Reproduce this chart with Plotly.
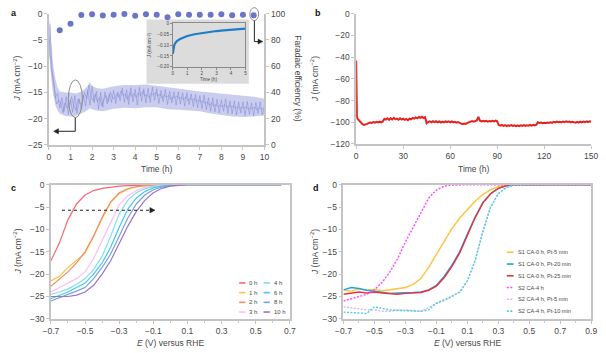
import plotly.graph_objects as go

# ---------------- data ----------------
# Panel a: chronoamperometry (J) and Faradaic efficiency
t_a = [round(0.1 * i, 1) for i in range(101)]
J_a = [-4.0, -10.5, -12.0, -16.0, -15.2, -18.0, -16.0, -18.6, -15.8, -19.2,
       -16.4, -18.8, -15.6, -19.0, -16.2, -18.2, -15.5, -17.6, -14.6, -17.4,
       -13.8, -17.0, -14.8, -18.2, -15.0, -17.8, -14.9, -17.2, -15.3, -16.9,
       -14.6, -17.1, -14.9, -16.6, -14.2, -16.9, -14.5, -17.3, -14.1, -16.8,
       -14.4, -17.4, -14.0, -16.7, -14.3, -17.0, -14.2, -16.9, -14.0, -16.5,
       -14.3, -17.1, -14.6, -16.8, -14.4, -17.3, -14.8, -17.0, -14.9, -17.4,
       -14.9, -17.2, -15.1, -17.6, -15.0, -17.3, -15.3, -17.7, -15.4, -17.9,
       -15.6, -18.1, -15.5, -18.3, -16.0, -18.6, -16.0, -18.7, -16.3, -18.9,
       -16.4, -18.6, -16.2, -19.0, -16.6, -19.1, -16.6, -19.3, -16.8, -18.9,
       -16.8, -19.4, -16.7, -19.2, -17.0, -19.5, -16.9, -19.0, -16.8, -19.3,
       -17.6]
t_a_mid = [round(0.05 + 0.1 * i, 2) for i in range(100)]
J_a_mid = [-2.0, -11.5, -14.5, -17.2, -16.5, -17.0, -18.9, -17.0, -18.0, -17.5,
           -15.8, -17.6, -18.4, -16.3, -17.2, -16.9, -15.0, -16.2, -13.6, -15.8,
           -16.6, -15.3, -16.8, -15.9, -17.5, -16.2, -15.6, -16.8, -14.9, -16.1,
           -16.2, -15.2, -15.9, -14.7, -15.6, -15.3, -16.4, -15.0, -15.8, -15.2,
           -15.9, -15.1, -15.6, -14.8, -15.7, -15.4, -16.0, -15.2, -15.5, -15.0,
           -15.7, -15.3, -16.1, -15.5, -15.9, -15.6, -16.3, -15.8, -16.0, -15.7,
           -16.2, -15.9, -16.4, -15.8, -16.6, -16.1, -16.5, -16.2, -16.8, -16.4,
           -16.9, -16.6, -17.1, -16.8, -17.5, -17.0, -17.6, -17.3, -17.7, -17.4,
           -17.8, -17.3, -17.9, -17.5, -17.8, -17.6, -18.0, -17.7, -18.1, -17.8,
           -18.0, -17.7, -18.2, -17.9, -18.1, -17.8, -18.3, -17.9, -18.2, -18.0]
t_band = [0, 0.05, 0.1, 0.2, 0.3, 0.4, 0.5, 0.75, 1, 1.25, 1.5, 1.75, 1.9, 2, 2.25, 2.5,
          3, 3.5, 4, 4.5, 5, 5.5, 6, 6.5, 7, 7.5, 8, 8.5, 9, 9.5, 10]
J_a_upper = [-3.0, -1.0, -5.5, -10.0, -12.5, -14.0, -14.8, -15.0, -15.0, -15.2, -14.8,
             -14.0, -13.0, -13.8, -14.2, -14.3, -13.8, -13.6, -13.6, -13.5, -13.7,
             -14.0, -14.3, -14.6, -14.8, -15.0, -15.2, -15.4, -15.6, -15.8, -16.2]
J_a_lower = [-8.0, -9.0, -12.0, -15.5, -17.5, -18.5, -19.0, -19.5, -19.6, -19.5, -19.0,
             -18.5, -18.0, -18.2, -18.5, -18.6, -18.1, -17.9, -18.0, -17.8, -17.8,
             -18.2, -18.3, -18.4, -18.6, -19.0, -19.3, -19.6, -19.7, -19.6, -19.4]
t_fe = [0.5, 1, 1.5, 2, 2.5, 3, 3.5, 4, 4.5, 5, 5.5, 6, 6.5, 7, 7.5, 8, 8.5, 9, 9.5]
fe = [87.4, 92.4, 99.0, 99.6, 98.6, 99.3, 99.8, 98.4, 99.6, 99.2, 97.4, 99.6,
      99.2, 99.3, 99.3, 99.6, 98.8, 99.2, 98.8]

# inset of panel a
t_in = [0, 0.05, 0.1, 0.2, 0.3, 0.5, 0.75, 1, 1.5, 2, 2.5, 3, 3.5, 4, 4.5, 5]
J_in = [-0.14, -0.115, -0.1, -0.088, -0.08, -0.072, -0.064, -0.058, -0.05,
        -0.044, -0.039, -0.035, -0.032, -0.029, -0.026, -0.024]

# Panel b: long-term stability
t_b = [0, 0.2, 0.5] + list(range(1, 151))
J_b = [-43.0, -88.0, -95.0,
       -97.0, -98.5, -100.5, -101.8, -102.4, -102.2, -101.5, -100.8, -100.3, -100.6,
       -99.8, -100.4, -99.6, -100.2, -99.5, -100.1, -99.3, -96.8, -97.6, -96.4,
       -97.8, -96.2, -97.4, -96.0, -97.2, -96.6, -97.7, -96.3, -97.5, -96.7,
       -97.8, -97.0, -98.1, -96.8, -97.4, -96.1, -96.7, -95.6, -96.4, -95.2,
       -96.0, -95.0, -96.1, -95.4, -101.0, -99.8, -99.2, -100.1, -99.0, -99.9,
       -99.1, -100.0, -99.3, -100.2, -99.4, -100.1, -99.2, -99.8, -99.1, -100.0,
       -99.3, -100.2, -99.6, -100.4, -99.8, -100.6, -101.1, -101.8, -101.2, -101.5,
       -100.6, -100.0, -99.6, -99.0, -99.5, -98.9, -98.4, -95.0, -98.6, -99.2,
       -98.6, -99.3, -98.7, -99.4, -98.8, -99.3, -98.6, -99.2, -98.5, -99.1,
       -102.6, -103.2, -102.4, -103.4, -102.7, -103.5, -102.8, -103.3, -102.6, -103.4,
       -102.9, -103.6, -103.0, -103.5, -102.8, -103.3, -102.6, -103.4, -102.9, -103.2,
       -102.5, -103.1, -102.4, -102.9, -102.2, -100.0, -100.6, -100.2, -100.8, -100.4,
       -100.9, -100.3, -100.7, -100.1, -100.5, -99.6, -100.2, -99.4, -100.0, -99.5,
       -100.1, -99.3, -99.9, -99.2, -99.8, -99.4, -100.2, -99.5, -100.0, -100.4,
       -99.7, -100.3, -99.5, -100.1, -99.4, -99.9, -99.2, -99.8, -99.1, -99.6]

# Panel c: LSV after different CA times
E_c = [-0.70, -0.65, -0.60, -0.55, -0.50, -0.45, -0.40, -0.35, -0.30, -0.25,
       -0.20, -0.15, -0.10, -0.05, 0.00, 0.05, 0.10, 0.15, 0.20, 0.25,
       0.30, 0.35, 0.40, 0.45, 0.50, 0.55, 0.60, 0.65]
names_c = ["0 h", "1 h", "2 h", "3 h", "4 h", "6 h", "8 h", "10 h"]
J_c = [
    [-17.0, -13.0, -7.8, -4.3, -2.3, -1.3, -0.8, -0.5, -0.3, -0.2, -0.15, -0.1, -0.05, -0.03] + [0.0] * 14,
    [-21.5, -20.5, -18.5, -17.0, -15.3, -11.5, -7.5, -4.0, -2.0, -1.0, -0.5, -0.25, -0.1, -0.05] + [0.0] * 14,
    [-22.7, -21.0, -19.5, -17.5, -15.0, -11.5, -7.3, -3.8, -1.8, -0.9, -0.45, -0.2, -0.1, -0.03] + [0.0] * 14,
    [-24.0, -23.0, -22.0, -21.0, -19.5, -16.5, -12.5, -8.5, -4.5, -2.5, -1.3, -0.6, -0.3, -0.1] + [0.0] * 14,
    [-24.5, -24.0, -23.3, -22.3, -21.0, -19.0, -16.0, -11.5, -6.5, -3.5, -1.8, -0.9, -0.4, -0.15, -0.05] + [0.0] * 13,
    [-25.5, -24.8, -24.0, -23.0, -22.0, -20.0, -17.5, -14.0, -9.5, -5.5, -3.0, -1.5, -0.7, -0.3, -0.1] + [0.0] * 13,
    [-26.0, -25.3, -24.5, -23.8, -23.0, -21.0, -18.5, -15.5, -11.5, -7.5, -4.3, -2.3, -1.1, -0.5, -0.2, -0.05] + [0.0] * 12,
    [-25.0, -25.0, -25.0, -24.7, -24.0, -22.5, -20.0, -17.0, -13.2, -9.3, -6.0, -3.5, -1.8, -0.8, -0.3, -0.1] + [0.0] * 12,
]
colors_c = ["#f26a74", "#ffc440", "#f88c66", "#fbbff5", "#84e0e6", "#45c6f4", "#76a3dc", "#a070cc"]

# Panel d: LSV with Pt deposition
E_d = [round(-0.70 + 0.05 * i, 2) for i in range(33)]
names_d = ["S1 CA-0 h, Pt-5 min", "S1 CA-0 h, Pt-20 min", "S1 CA-0 h, Pt-25 min",
           "S2 CA-4 h", "S2 CA-4 h, Pt-5 min", "S2 CA-4 h, Pt-10 min"]
J_d = [
    [-23.5, -23.8, -23.3, -23.6, -23.4, -23.7, -23.5, -23.3, -23.0, -22.3, -21.0, -18.5,
     -15.5, -12.5, -9.8, -7.5, -5.5, -3.7, -2.2, -1.1, -0.4, -0.1] + [0.0] * 11,
    [-23.5, -23.0, -23.2, -23.6, -23.8, -24.0, -24.3, -24.2, -24.2, -24.1, -24.0, -23.5,
     -22.5, -20.5, -18.0, -15.0, -11.0, -7.2, -4.0, -2.0, -0.8, -0.25, -0.05] + [0.0] * 10,
    [-24.5, -24.3, -24.0, -24.2, -24.0, -24.2, -24.4, -24.5, -24.3, -24.2, -24.1, -23.6,
     -22.7, -20.8, -18.3, -15.3, -11.3, -7.4, -4.1, -2.0, -0.8, -0.25, -0.05] + [0.0] * 10,
    [-26.0, -25.5, -25.0, -24.5, -23.5, -21.8, -19.5, -16.5, -12.8, -9.5, -6.0, -3.0,
     -1.2, -0.3, -0.05] + [0.0] * 18,
    [-27.3, -27.5, -27.8, -28.0, -28.0, -28.3, -28.3, -28.0, -28.0, -28.2, -28.3, -27.5,
     -26.5, -26.0, -25.0, -24.0, -21.5, -17.0, -10.5, -5.0, -2.0, -0.6, -0.1] + [0.0] * 10,
    [-28.5, -28.6, -28.7, -28.8, -27.3, -27.6, -28.0, -28.1, -28.2, -28.3, -28.3, -28.0,
     -26.5, -25.7, -25.0, -24.0, -21.5, -17.0, -10.5, -5.0, -2.0, -0.6, -0.1] + [0.0] * 10,
]
colors_d = ["#ffc23a", "#1ea4e6", "#e8333a", "#ff44ff", "#d8b2e8", "#42d2e2"]
dash_d = ["solid", "solid", "solid", "2px,1.5px", "2px,1.5px", "2px,1.5px"]

# ---------------- figure ----------------
W, H = 606, 353
FONT = "Liberation Sans, Arial, sans-serif"
TXT = "#474747"


def X(p):
    return p / W


def Y(p):
    return 1 - p / H


fig = go.Figure()

# panel a
fig.add_trace(go.Scatter(x=t_band, y=J_a_upper, mode="lines", line=dict(width=0, color="rgba(0,0,0,0)"),
                         xaxis="x", yaxis="y", showlegend=False, hoverinfo="skip"))
fig.add_trace(go.Scatter(x=t_band, y=J_a_lower, mode="lines", line=dict(width=0, color="rgba(0,0,0,0)"),
                         fill="tonexty", fillcolor="rgba(150,156,222,0.5)",
                         xaxis="x", yaxis="y", showlegend=False, hoverinfo="skip"))
fig.add_trace(go.Scatter(x=t_a, y=J_a, mode="lines", line=dict(color="rgba(118,126,208,0.55)", width=0.8),
                         xaxis="x", yaxis="y", showlegend=False))
fig.add_trace(go.Scatter(x=t_a_mid, y=J_a_mid, mode="lines", line=dict(color="rgba(118,126,208,0.55)", width=0.8),
                         xaxis="x", yaxis="y", showlegend=False))
fig.add_trace(go.Scatter(x=t_fe, y=fe, mode="markers", marker=dict(color="#6a74c9", size=6),
                         xaxis="x", yaxis="y2", showlegend=False, cliponaxis=False))
# inset
fig.add_trace(go.Scatter(x=t_in, y=J_in, mode="lines", line=dict(color="#1f7cc6", width=2.2),
                         xaxis="x5", yaxis="y6", showlegend=False))
# panel b
fig.add_trace(go.Scatter(x=t_b, y=J_b, mode="lines", line=dict(color="#e2231f", width=2),
                         xaxis="x2", yaxis="y3", showlegend=False))
# panel c
for name, ys, col in zip(names_c, J_c, colors_c):
    fig.add_trace(go.Scatter(x=E_c, y=ys, mode="lines", name=name, line=dict(color=col, width=1.2),
                             xaxis="x3", yaxis="y4", showlegend=False))
# panel d
for name, ys, col, dsh in zip(names_d, J_d, colors_d, dash_d):
    fig.add_trace(go.Scatter(x=E_d, y=ys, mode="lines", name=name,
                             line=dict(color=col, width=1.4, dash=dsh),
                             xaxis="x4", yaxis="y5", showlegend=False))

axis_common = dict(showline=True, linecolor="#c4c4c4", linewidth=1.5, ticks="outside",
                   tickcolor="#c4c4c4", ticklen=3, tickwidth=1.2, showgrid=False, zeroline=False,
                   tickfont=dict(size=8.5, color=TXT, family=FONT))
inset_common = dict(showline=True, linecolor="#8a8a8a", linewidth=0.8, ticks="outside",
                    tickcolor="#8a8a8a", ticklen=2, tickwidth=0.8, showgrid=False, zeroline=False,
                    mirror=True, tickfont=dict(size=4.6, color=TXT, family=FONT))

fig.update_layout(
    width=W, height=H, autosize=False,
    margin=dict(l=0, r=0, t=0, b=0),
    paper_bgcolor="white", plot_bgcolor="rgba(0,0,0,0)",
    font=dict(family=FONT, color=TXT),
    showlegend=False,
    xaxis=dict(domain=[X(42), X(263)], anchor="y", range=[0, 10], dtick=1, **axis_common),
    yaxis=dict(domain=[Y(144), Y(9)], anchor="x", range=[-25, 0], dtick=5, **axis_common),
    yaxis2=dict(overlaying="y", side="right", anchor="x", range=[0, 100], dtick=20, **axis_common),
    xaxis2=dict(domain=[X(357), X(598)], anchor="y3", range=[0, 150], dtick=30, **axis_common),
    yaxis3=dict(domain=[Y(143), Y(9)], anchor="x2", range=[-120, 0], dtick=20, **axis_common),
    xaxis3=dict(domain=[X(44), X(289)], anchor="y4", range=[-0.7, 0.7], tick0=-0.7, dtick=0.2,
                tickformat=".1f", mirror=True,
                minor=dict(tick0=-0.7, dtick=0.1, ticks="outside", ticklen=2, tickcolor="#c4c4c4"),
                **axis_common),
    yaxis4=dict(domain=[Y(323), Y(185)], anchor="x3", range=[-30, 0], dtick=5, mirror=True, **axis_common),
    xaxis4=dict(domain=[X(344), X(598)], anchor="y5", range=[-0.7, 0.9], tick0=-0.7, dtick=0.2,
                tickformat=".1f", mirror=True,
                minor=dict(tick0=-0.7, dtick=0.1, ticks="outside", ticklen=2, tickcolor="#c4c4c4"),
                **axis_common),
    yaxis5=dict(domain=[Y(323), Y(185)], anchor="x4", range=[-30, 0], dtick=5, mirror=True, **axis_common),
    xaxis5=dict(domain=[X(169), X(243.5)], anchor="y6", range=[0, 5], dtick=1, **inset_common),
    yaxis6=dict(domain=[Y(63.5), Y(19)], anchor="x5", range=[-0.2, 0],
                tickvals=[-0.2, -0.15, -0.1, -0.05, 0],
                ticktext=["\u22120.20", "\u22120.15", "\u22120.10", "\u22120.05", "0"], **inset_common),
)

shapes = []
annotations = []
ARROW = "#222222"

# inset background
shapes.append(dict(type="rect", xref="paper", yref="paper", x0=X(142), x1=X(247), y0=Y(81), y1=Y(15),
                   fillcolor="#dcdcdc", line=dict(width=0), layer="below"))

# panel a: ellipse + arrow to the left axis
shapes.append(dict(type="circle", xref="x", yref="y", x0=0.9, x1=1.55, y0=-19.8, y1=-12.6,
                   line=dict(color="#8c8c8c", width=1)))
shapes.append(dict(type="path", xref="x", yref="y",
                   path="M 1.22,-19.8 L 1.22,-22.4 L 0.42,-22.4",
                   line=dict(color=ARROW, width=1)))
shapes.append(dict(type="path", xref="x", yref="y",
                   path="M 0.22,-22.4 L 0.44,-21.9 L 0.44,-22.9 Z",
                   fillcolor=ARROW, line=dict(color=ARROW, width=0.5)))
# panel a: ellipse + arrow to the right axis
shapes.append(dict(type="circle", xref="paper", yref="paper", x0=X(248), x1=X(257), y0=Y(16), y1=Y(2.7),
                   line=dict(color="#8c8c8c", width=1)))
shapes.append(dict(type="path", xref="x", yref="y2",
                   path="M 9.53,94.8 L 9.53,78.8 L 9.7,78.8",
                   line=dict(color=ARROW, width=1)))
shapes.append(dict(type="path", xref="x", yref="y2",
                   path="M 9.92,78.8 L 9.7,80.7 L 9.7,76.9 Z",
                   fillcolor=ARROW, line=dict(color=ARROW, width=0.5)))

# panel c dotted arrow
shapes.append(dict(type="line", xref="x3", yref="y4", x0=-0.635, x1=-0.12, y0=-5.7, y1=-5.7,
                   line=dict(color=ARROW, width=1.2, dash="dot")))
shapes.append(dict(type="path", xref="x3", yref="y4",
                   path="M -0.09,-5.7 L -0.12,-5.1 L -0.12,-6.3 Z",
                   fillcolor=ARROW, line=dict(color=ARROW, width=0.5)))

# legend panel c (two columns)
for i, (name, col) in enumerate(zip(names_c, colors_c)):
    cx = 237 if i < 4 else 262
    ry = 286 + 10 * (i % 4)
    shapes.append(dict(type="line", xref="paper", yref="paper", x0=X(cx), x1=X(cx + 6.5), y0=Y(ry), y1=Y(ry),
                       line=dict(color=col, width=1.6)))
    annotations.append(dict(xref="paper", yref="paper", x=X(cx + 8.5), y=Y(ry), text=name, showarrow=False,
                            xanchor="left", yanchor="middle", font=dict(size=6, color=TXT, family=FONT)))

# legend panel d
for i, (name, col, dsh) in enumerate(zip(names_d, colors_d, dash_d)):
    ry = 254.5 + 12.1 * i
    shapes.append(dict(type="line", xref="paper", yref="paper", x0=X(511.5), x1=X(518.5), y0=Y(ry), y1=Y(ry),
                       line=dict(color=col, width=1.6, dash=dsh)))
    annotations.append(dict(xref="paper", yref="paper", x=X(521), y=Y(ry), text=name, showarrow=False,
                            xanchor="left", yanchor="middle", font=dict(size=5.6, color=TXT, family=FONT)))

# axis titles
jt = "<i>J</i> (mA cm<sup>\u22122</sup>)"
et = "<i>E</i> (V) versus RHE"
title_font = dict(size=8.5, color=TXT, family=FONT)
for (x, y, txt, ang) in [
    (10, 76, jt, -90), (297, 75, "Faradaic efficiency (%)", 90), (152.5, 169, "Time (h)", 0),
    (315, 76, jt, -90), (477.5, 169, "Time (h)", 0),
    (10, 254, jt, -90), (166.5, 348, et, 0),
    (315, 254, jt, -90), (471, 348, et, 0),
]:
    annotations.append(dict(xref="paper", yref="paper", x=X(x), y=Y(y), text=txt, showarrow=False,
                            textangle=ang, xanchor="center", yanchor="middle", font=title_font))

# inset titles
inset_font = dict(size=4.6, color=TXT, family=FONT)
annotations.append(dict(xref="paper", yref="paper", x=X(145), y=Y(41), text=jt, showarrow=False,
                        textangle=-90, xanchor="center", yanchor="middle", font=inset_font))
annotations.append(dict(xref="paper", yref="paper", x=X(206), y=Y(77), text="Time (h)", showarrow=False,
                        xanchor="center", yanchor="middle", font=inset_font))

# panel letters
for (x, y, txt) in [(1, 1, "a"), (313, 1, "b"), (1, 181, "c"), (311, 181, "d")]:
    annotations.append(dict(xref="paper", yref="paper", x=X(x), y=Y(y), text="<b>%s</b>" % txt,
                            showarrow=False, xanchor="left", yanchor="top",
                            font=dict(size=9, color="#111111", family=FONT)))

fig.update_layout(shapes=shapes, annotations=annotations)
fig.write_html("out.html")
